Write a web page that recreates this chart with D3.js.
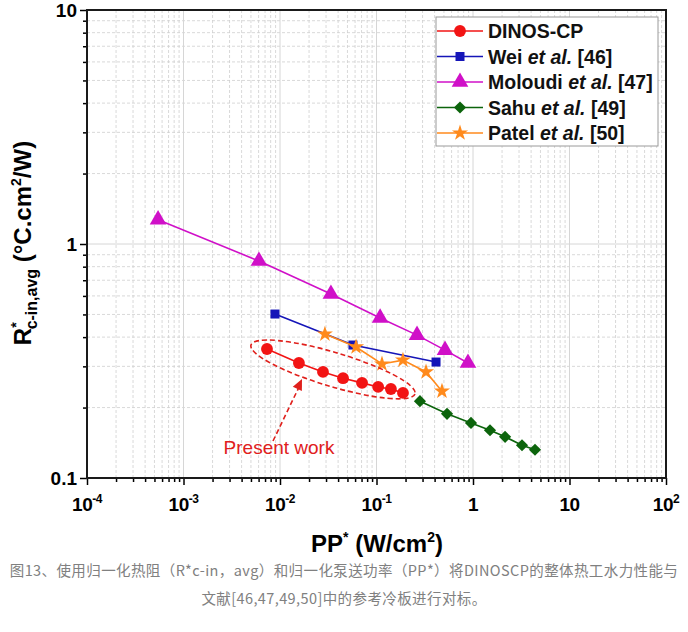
<!DOCTYPE html>
<html>
<head>
<meta charset="utf-8">
<script src="https://cdn.jsdelivr.net/npm/d3@7"></script>
<style>
  body { margin: 0; background: #fff; }
  svg { font-family: "Liberation Sans", Arial, sans-serif; }
</style>
</head>
<body>
<svg id="chart"></svg>
<script>
const WIDTH = 688;
const HEIGHT = 632;
const LEFT = 87, RIGHT = 666, TOP = 10, BOTTOM = 478;

// data
const dinosX = [0.00733, 0.0157, 0.0279, 0.045, 0.0708, 0.104, 0.141, 0.188];
const dinosY = [0.356, 0.310, 0.284, 0.267, 0.255, 0.245, 0.240, 0.231];
const weiX = [0.00887, 0.057, 0.414];
const weiY = [0.502, 0.370, 0.313];
const moloudiX = [0.000545, 0.00605, 0.0337, 0.109, 0.263, 0.513, 0.887];
const moloudiY = [1.27, 0.846, 0.611, 0.483, 0.408, 0.352, 0.310];
const sahuX = [0.282, 0.538, 0.953, 1.50, 2.15, 3.22, 4.39];
const sahuY = [0.213, 0.188, 0.172, 0.160, 0.150, 0.138, 0.132];
const patelX = [0.0292, 0.0614, 0.114, 0.188, 0.326, 0.477];
const patelY = [0.412, 0.363, 0.307, 0.319, 0.284, 0.235];

const xTicks = [1e-4, 1e-3, 1e-2, 1e-1, 1, 10, 100];
const xTickLabels = [["10", "-4"], ["10", "-3"], ["10", "-2"], ["10", "-1"], ["1", ""], ["10", ""], ["10", "2"]];
const yTicks = [0.1, 1, 10];
const yTickLabels = ["0.1", "1", "10"];

const seriesNames = ["DINOS-CP", "Wei", "Moloudi", "Sahu", "Patel"];
const legendRefs = ["", "[46]", "[47]", "[49]", "[50]"];

const series = [
  { name: seriesNames[0], xs: dinosX, ys: dinosY, color: "#f21414", shape: "circle" },
  { name: seriesNames[1], xs: weiX, ys: weiY, color: "#1515b8", shape: "square" },
  { name: seriesNames[2], xs: moloudiX, ys: moloudiY, color: "#d010c8", shape: "triangle" },
  { name: seriesNames[3], xs: sahuX, ys: sahuY, color: "#0c640c", shape: "diamond" },
  { name: seriesNames[4], xs: patelX, ys: patelY, color: "#ff8a1c", shape: "star" }
];

const x = d3.scaleLog().domain([1e-4, 1e2]).range([LEFT, RIGHT]);
const y = d3.scaleLog().domain([0.1, 10]).range([BOTTOM, TOP]);

const svg = d3.select('#chart').attr('width', WIDTH).attr('height', HEIGHT);

// minor values
const xMinor = [];
for (let e = -4; e < 2; e++) for (let m = 2; m <= 9; m++) xMinor.push(m * Math.pow(10, e));
const yMinor = [];
for (let e = -1; e < 1; e++) for (let m = 2; m <= 9; m++) yMinor.push(m * Math.pow(10, e));

// grid
const grid = svg.append('g');
grid.selectAll('.xminor').data(xMinor).join('line')
  .attr('x1', d => x(d)).attr('x2', d => x(d)).attr('y1', TOP).attr('y2', BOTTOM)
  .attr('stroke', '#cfcfcf').attr('stroke-width', 0.8).attr('stroke-dasharray', '3,2');
grid.selectAll('.yminor').data(yMinor).join('line')
  .attr('y1', d => y(d)).attr('y2', d => y(d)).attr('x1', LEFT).attr('x2', RIGHT)
  .attr('stroke', '#cfcfcf').attr('stroke-width', 0.8).attr('stroke-dasharray', '3,2');
grid.selectAll('.xmajor').data(xTicks).join('line')
  .attr('x1', d => x(d)).attr('x2', d => x(d)).attr('y1', TOP).attr('y2', BOTTOM)
  .attr('stroke', '#d6d6d6').attr('stroke-width', 1);
grid.selectAll('.ymajor').data(yTicks).join('line')
  .attr('y1', d => y(d)).attr('y2', d => y(d)).attr('x1', LEFT).attr('x2', RIGHT)
  .attr('stroke', '#d6d6d6').attr('stroke-width', 1);

// axes (ticks only, labels drawn separately)
const xAxisMajor = svg.append('g').attr('transform', `translate(0,${BOTTOM})`)
  .call(d3.axisBottom(x).tickValues(xTicks).tickSize(7).tickFormat(''));
const xAxisMinor = svg.append('g').attr('transform', `translate(0,${BOTTOM})`)
  .call(d3.axisBottom(x).tickValues(xMinor).tickSize(4).tickFormat(''));
const yAxisMajor = svg.append('g').attr('transform', `translate(${LEFT},0)`)
  .call(d3.axisLeft(y).tickValues(yTicks).tickSize(7).tickFormat(''));
const yAxisMinor = svg.append('g').attr('transform', `translate(${LEFT},0)`)
  .call(d3.axisLeft(y).tickValues(yMinor).tickSize(4).tickFormat(''));
[xAxisMajor, xAxisMinor, yAxisMajor, yAxisMinor].forEach(a => {
  a.select('.domain').remove();
  a.selectAll('line').attr('stroke', '#000').attr('stroke-width', 1.5);
});

// frame
svg.append('rect').attr('x', LEFT).attr('y', TOP).attr('width', RIGHT - LEFT).attr('height', BOTTOM - TOP)
  .attr('fill', 'none').attr('stroke', '#1a1a1a').attr('stroke-width', 2);

// tick labels
const xl = svg.append('g').selectAll('text').data(xTicks).join('text')
  .attr('x', d => x(d)).attr('y', 511)
  .attr('text-anchor', 'middle').attr('font-weight', 'bold').attr('font-size', 19)
  .attr('letter-spacing', -0.5);
xl.append('tspan').text((d, i) => xTickLabels[i][0]);
xl.append('tspan').attr('dy', -8).attr('font-size', 12).text((d, i) => xTickLabels[i][1]);

svg.append('g').selectAll('text').data(yTicks).join('text')
  .attr('x', 77).attr('y', d => y(d) + 7)
  .attr('text-anchor', 'end').attr('font-weight', 'bold').attr('font-size', 19)
  .text((d, i) => yTickLabels[i]);

// axis titles
const xt = svg.append('text').attr('x', 377).attr('y', 552)
  .attr('text-anchor', 'middle').attr('font-weight', 'bold').attr('font-size', 24);
xt.append('tspan').text('PP');
xt.append('tspan').attr('dy', -10).attr('font-size', 14).text('*');
xt.append('tspan').attr('dy', 10).text(' (W/cm');
xt.append('tspan').attr('dy', -10).attr('font-size', 14).text('2');
xt.append('tspan').attr('dy', 10).text(')');

const yt = svg.append('text').attr('transform', 'translate(31,243) rotate(-90)')
  .attr('text-anchor', 'middle').attr('font-weight', 'bold').attr('font-size', 24);
yt.append('tspan').text('R');
yt.append('tspan').attr('dy', -10).attr('font-size', 14).text('*');
yt.append('tspan').attr('dx', -7).attr('dy', 16).attr('font-size', 16).text('c-in,avg');
yt.append('tspan').attr('dy', -6).text(' (°C.cm');
yt.append('tspan').attr('dy', -10).attr('font-size', 14).text('2');
yt.append('tspan').attr('dy', 10).text('/W)');

// marker shapes
function symbolPath(shape) {
  if (shape === 'square') return d3.symbol(d3.symbolSquare, 81)();
  if (shape === 'triangle') return d3.symbol(d3.symbolTriangle, 120)();
  if (shape === 'diamond') return d3.symbol(d3.symbolSquare, 74)();
  if (shape === 'star') return d3.symbol(d3.symbolStar, 80)();
  return d3.symbol(d3.symbolCircle, 110)();
}
function symbolRotate(shape) { return shape === 'diamond' ? ' rotate(45)' : ''; }

const line = d3.line().x(d => x(d[0])).y(d => y(d[1]));

series.forEach(s => {
  const pts = s.xs.map((v, i) => [v, s.ys[i]]);
  svg.append('path').datum(pts).attr('d', line)
    .attr('fill', 'none').attr('stroke', s.color).attr('stroke-width', 1.6);
  svg.append('g').selectAll('path').data(pts).join('path')
    .attr('d', symbolPath(s.shape))
    .attr('transform', d => `translate(${x(d[0])},${y(d[1])})` + symbolRotate(s.shape))
    .attr('fill', s.color);
});

// annotation: dashed ellipse around present work
const ex1 = x(dinosX[0]) - 16, ey1 = y(dinosY[0]) - 4;
const ex2 = x(dinosX[dinosX.length - 1]) + 12, ey2 = y(dinosY[dinosY.length - 1]) + 1;
const ecx = (ex1 + ex2) / 2, ecy = (ey1 + ey2) / 2;
const erx = Math.hypot(ex2 - ex1, ey2 - ey1) / 2;
const eang = Math.atan2(ey2 - ey1, ex2 - ex1) * 180 / Math.PI;
svg.append('ellipse').attr('cx', 0).attr('cy', 0).attr('rx', erx).attr('ry', 17)
  .attr('transform', `translate(${ecx},${ecy}) rotate(${eang})`)
  .attr('fill', 'none').attr('stroke', '#e0201c').attr('stroke-width', 1.6).attr('stroke-dasharray', '5,3');

const ax1 = 273, ay1 = 441, ax2 = 302, ay2 = 379;
svg.append('line').attr('x1', ax1).attr('y1', ay1).attr('x2', ax2 - 2).attr('y2', ay2 + 6)
  .attr('stroke', '#e0201c').attr('stroke-width', 1.6).attr('stroke-dasharray', '5,3');
const ang = Math.atan2(ay2 - ay1, ax2 - ax1);
const hl = 11, hw = 5;
const bx = ax2 - hl * Math.cos(ang), by = ay2 - hl * Math.sin(ang);
svg.append('path')
  .attr('d', `M${ax2},${ay2}L${bx + hw * Math.sin(ang)},${by - hw * Math.cos(ang)}L${bx - hw * Math.sin(ang)},${by + hw * Math.cos(ang)}Z`)
  .attr('fill', '#e0201c');
svg.append('text').attr('x', 279).attr('y', 454).attr('text-anchor', 'middle')
  .attr('fill', '#e0201c').attr('font-size', 19).text('Present work');

// legend
const legend = svg.append('g');
legend.append('rect').attr('x', 436).attr('y', 17).attr('width', 222).attr('height', 129)
  .attr('fill', '#fff').attr('stroke', '#9a9a9a').attr('stroke-width', 1);
series.forEach((s, i) => {
  const ly = 31 + i * 25.5;
  legend.append('line').attr('x1', 437).attr('x2', 483).attr('y1', ly).attr('y2', ly)
    .attr('stroke', s.color).attr('stroke-width', 1.6);
  legend.append('path').attr('d', symbolPath(s.shape))
    .attr('transform', `translate(460,${ly})` + symbolRotate(s.shape)).attr('fill', s.color);
  const t = legend.append('text').attr('x', 488).attr('y', ly + 7)
    .attr('font-weight', 'bold').attr('font-size', 19.5).attr('fill', '#111');
  t.append('tspan').text(s.name);
  if (i > 0) {
    t.append('tspan').attr('font-style', 'italic').text(' et al.');
    t.append('tspan').text(' ' + legendRefs[i]);
  }
});

// caption
const caption = svg.append('g').attr('font-family', '"Noto Sans CJK SC", sans-serif')
  .attr('font-size', 14.5).attr('letter-spacing', 0.4).attr('fill', '#808080').attr('text-anchor', 'middle');
caption.append('text').attr('x', 344).attr('y', 576)
  .text('图13、使用归一化热阻（R*c-in，avg）和归一化泵送功率（PP*）将DINOSCP的整体热工水力性能与');
caption.append('text').attr('x', 344).attr('y', 604)
  .text('文献[46,47,49,50]中的参考冷板进行对标。');
</script>
</body>
</html>
